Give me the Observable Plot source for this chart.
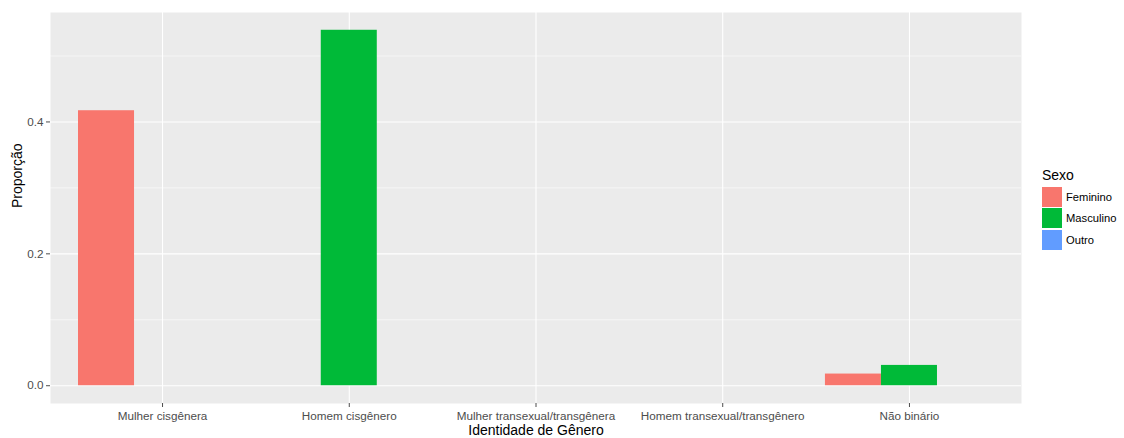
<!DOCTYPE html>
<html><head><meta charset="utf-8">
<script src="https://cdn.jsdelivr.net/npm/d3@7"></script>
<script src="https://cdn.jsdelivr.net/npm/@observablehq/plot@0.6"></script>
<style>
body{margin:0;background:#fff;}
#wrap{position:relative;width:1124px;height:438px;font-family:"Liberation Sans",Arial,sans-serif;overflow:hidden;}
#legend{position:absolute;left:1042px;top:166px;}
#legend .lt{font-size:14px;color:#000;height:18px;line-height:18px;margin-bottom:2px;}
#legend .row{display:flex;align-items:center;height:21.5px;}
#legend .key{width:20px;height:20px;display:inline-block;margin-right:4px;}
#legend .lab{font-size:11.2px;color:#000;}
</style></head><body><div id="wrap"></div>
<script>
const categories = ["Mulher cisgênera","Homem cisgênero","Mulher transexual/transgênera","Homem transexual/transgênero","Não binário"];
const sexes = ["Feminino","Masculino","Outro"];
const colors = ["#F8766D","#00BA38","#619CFF"];
const feminino = [0.417, 0, 0, 0, 0.0177];
const masculino = [0, 0.539, 0, 0, 0.0308];
const outro = [0, 0, 0, 0, 0];
const yTicks = [0, 0.2, 0.4];
const yMinor = [0.1, 0.3, 0.5];
const xTitle = "Identidade de Gênero";
const yTitle = "Proporção";
const legendTitle = "Sexo";

const series = [feminino, masculino, outro];
const rows = [];
categories.forEach((c, i) => {
  sexes.forEach((s, j) => {
    const x1 = (i + 1) - 0.45 + j * 0.3;
    rows.push({cat: c, sex: s, value: series[j][i], x1, x2: x1 + 0.3});
  });
});
const ymax = d3.max(rows, d => d.value);
const pad = ymax * 0.05;

const chart = Plot.plot({
  width: 1124, height: 438,
  marginLeft: 50, marginRight: 103, marginTop: 12, marginBottom: 35,
  x: {domain: [0.4, categories.length + 0.6]},
  y: {domain: [-pad, ymax + pad]},
  color: {domain: sexes, range: colors},
  style: {fontFamily: '"Liberation Sans", Arial, sans-serif', fontSize: "11.7px", background: "white"},
  marks: [
    Plot.frame({fill: "#EBEBEB", stroke: "none"}),
    Plot.ruleY(yMinor, {stroke: "white", strokeWidth: 0.55}),
    Plot.ruleY(yTicks, {stroke: "white", strokeWidth: 1.1}),
    Plot.ruleX(d3.range(1, categories.length + 1), {stroke: "white", strokeWidth: 1.1}),
    Plot.rect(rows.filter(d => d.value > 0), {x1: "x1", x2: "x2", y1: 0, y2: "value", fill: "sex"}),
    Plot.axisX(d3.range(1, categories.length + 1), {tickFormat: i => categories[i - 1], tickSize: 4, tickPadding: 4, label: null, color: "#4d4d4d", fontSize: 11.7}),
    Plot.axisY(yTicks, {tickFormat: d3.format(".1f"), tickSize: 4, tickPadding: 3, label: null, color: "#4d4d4d", fontSize: 11.7}),
    Plot.text([yTitle], {text: d => d, frameAnchor: "left", dx: -33, rotate: -90, fontSize: 14, fill: "black"}),
    Plot.text([xTitle], {text: d => d, frameAnchor: "bottom", lineAnchor: "middle", dy: 27, fontSize: 14, fill: "black"})
  ]
});
const wrap = document.getElementById("wrap");
wrap.appendChild(chart);

const leg = document.createElement("div");
leg.id = "legend";
const t = document.createElement("div");
t.className = "lt"; t.textContent = legendTitle;
leg.appendChild(t);
sexes.forEach((s, j) => {
  const r = document.createElement("div"); r.className = "row";
  const k = document.createElement("span"); k.className = "key"; k.style.background = colors[j];
  const l = document.createElement("span"); l.className = "lab"; l.textContent = s;
  r.appendChild(k); r.appendChild(l); leg.appendChild(r);
});
wrap.appendChild(leg);
</script>
</body></html>
